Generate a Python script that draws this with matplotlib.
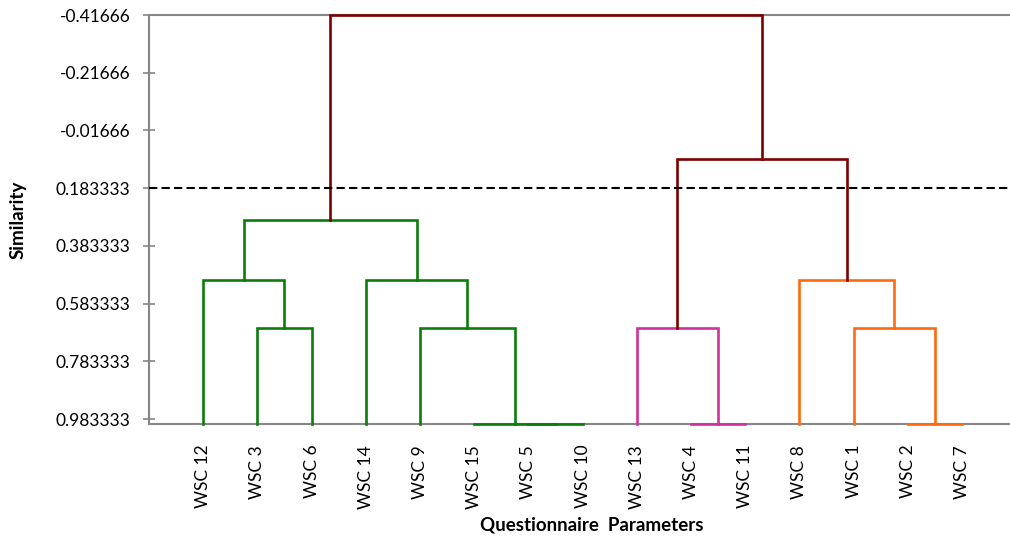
import matplotlib.pyplot as plt

plt.rcParams['font.family'] = ['Lato', 'DejaVu Sans']

# leaf order along the x axis
leaves = ['WSC 12', 'WSC 3', 'WSC 6', 'WSC 14', 'WSC 9', 'WSC 15', 'WSC 5',
          'WSC 10', 'WSC 13', 'WSC 4', 'WSC 11', 'WSC 8', 'WSC 1', 'WSC 2', 'WSC 7']

# merges: (left node, right node, similarity level, cluster)
# node ids 0..14 are leaves, each merge creates the next id (15, 16, ...)
merge_left = [1, 0, 6, 5, 4, 3, 16, 9, 8, 13, 12, 11, 23, 21]
merge_right = [2, 15, 7, 17, 18, 19, 20, 10, 22, 14, 24, 25, 26, 27]
merge_level = [0.666667, 0.5, 1.0, 1.0, 0.666667, 0.5, 0.291667,
               1.0, 0.666667, 1.0, 0.666667, 0.5, 0.083333, -0.416667]
merge_group = ['g', 'g', 'g', 'g', 'g', 'g', 'g',
               'm', 'm', 'o', 'o', 'o', 'r', 'r']

cut_level = 0.183333

yticks = [-0.41666, -0.21666, -0.01666, 0.183333, 0.383333, 0.583333, 0.783333, 0.983333]
ytick_labels = ['-0.41666', '-0.21666', '-0.01666', '0.183333',
                '0.383333', '0.583333', '0.783333', '0.983333']

colors = {'g': '#0a7d0a', 'm': '#d12f9b', 'o': '#ff6a0d', 'r': '#800000'}

fig = plt.figure(figsize=(10.1, 5.4), dpi=100)
ax = fig.add_axes([0.1475, 0.2148, 0.8587, 0.7574])

pos = {i: i + 1 for i in range(len(leaves))}
level = {i: 1.0 for i in range(len(leaves))}
for k, (a, b, h, grp) in enumerate(zip(merge_left, merge_right, merge_level, merge_group)):
    node = len(leaves) + k
    xa, xb = pos[a], pos[b]
    ax.plot([xa, xa, xb, xb], [level[a], h, h, level[b]],
            color=colors[grp], lw=1.9, solid_joinstyle='miter', zorder=3,
            clip_on=False)
    pos[node] = (xa + xb) / 2
    level[node] = h

ax.axhline(cut_level, color='black', lw=1.5, dashes=(4, 2), zorder=4)

ax.set_xlim(0, 16)
ax.set_ylim(1.0, -0.416667)
ax.set_yticks(yticks)
ax.set_yticklabels(ytick_labels, fontsize=12.5)
ax.set_xticks(range(1, len(leaves) + 1))
ax.set_xticklabels(leaves, rotation=90, fontsize=12.5)
ax.tick_params(axis='x', length=0, pad=15)
ax.tick_params(axis='y', direction='inout', length=9, width=1.2, color='#868686', pad=9)

for side in ['left', 'top', 'bottom']:
    ax.spines[side].set_color('#868686')
    ax.spines[side].set_linewidth(1.5)
ax.spines['right'].set_visible(False)

ax.set_ylabel('Similarity', fontsize=13.5, fontweight='bold', va='center')
ax.yaxis.set_label_coords(-0.151, 0.5)
ax.set_xlabel('Questionnaire  Parameters', fontsize=13.5, fontweight='bold', va='center')
ax.xaxis.set_label_coords(0.511, -0.247)

fig.savefig('out.png', dpi=100)
